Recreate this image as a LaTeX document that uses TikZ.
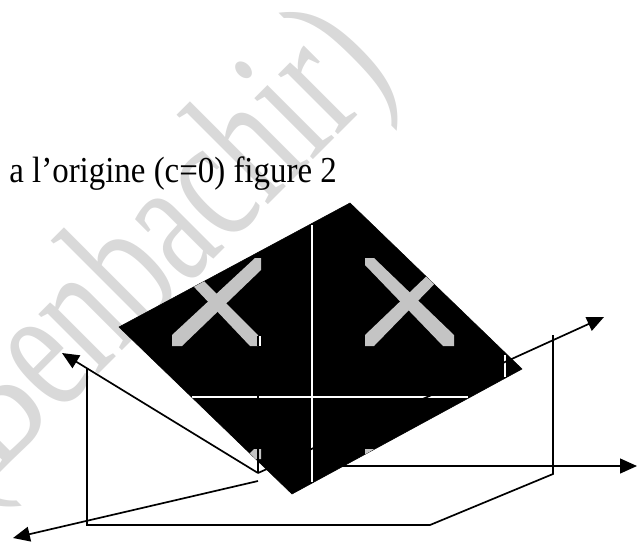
\documentclass[tikz,border=0pt]{standalone}
\usepackage{fontspec}
\setmainfont{Liberation Serif}
\usetikzlibrary{arrows.meta}

\tikzset{
  axisline/.style={black, line width=1.2pt},
  axisarrow/.style={axisline, -{Triangle[length=12pt,width=10.5pt]}},
  whiteline/.style={white, line width=1.2pt},
  crossarm/.style={fill=black!23},
}

\begin{document}
\begin{tikzpicture}[x=0.025cm, y=-0.025cm]
  \useasboundingbox (0,0) rectangle (637,541);

  % watermark
  \node[rotate=45, xscale=0.69, transform shape, anchor=base west, inner sep=0pt, text=black!15,
    font=\fontsize{131}{131}\selectfont] (mark) at (-33,506) {(Benbachir)};

  \node[anchor=base east, inner sep=0pt, font=\fontsize{26}{26}\selectfont,
    xscale=0.9, transform shape] (title) at (337,182) {e a l’origine (c=0) figure 2};

  % plate
  \filldraw[black] (350,203) -- (522,369) -- (292,494) -- (119,327) -- cycle;

  \begin{scope}
    \clip (350,203) -- (522,369) -- (292,494) -- (119,327) -- cycle;
    % left cross
    \fill[crossarm] (172,335) -- (172,346) -- (182,346) -- (261,270) -- (261,258) -- (255,258) -- cycle;
    \fill[crossarm] (258,335) -- (258,346) -- (250,346) -- (178,270) -- (193,270) -- cycle;
    % right cross
    \fill[crossarm] (365,258) -- (374,258) -- (454,335) -- (454,346) -- (443,346) -- (365,265) -- cycle;
    \fill[crossarm] (365,335) -- (365,346) -- (374,346) -- (448,270) -- (433,270) -- cycle;
    % lower pieces
    \fill[crossarm] (250,459) -- (250,453) -- (254,449) -- (261,449) -- (261,459) -- cycle;
    \fill[crossarm] (365,449) -- (374,449) -- (365,455) -- cycle;
    \draw[whiteline] (260,336) -- (260,346);
    \draw[whiteline] (312,225) -- (312,482);
    \draw[whiteline] (192,397) -- (468,397);
    \draw[whiteline] (505,355) -- (505,377);
  \end{scope}

  \coordinate (origin) at (258,473);
  \coordinate (frontend) at (258,481);

  \draw[axisline] (258,336) -- (258,346);
  \draw[axisline] (258,390) -- (258,404);
  \draw[axisline] (258,449) -- (origin);

  \draw[axisarrow] (origin) -- (62,353);
  \draw[axisarrow] (frontend) -- (13,538);
  \draw[axisline] (origin) -- (505,362);
  \draw[axisarrow] (505,362) -- (604,317);
  \draw[axisarrow] (320,466) -- (637,466);

  \draw[axisline] (87,368) -- (87,525) -- (430,525) -- (553,474) -- (553,335);
\end{tikzpicture}
\end{document}
